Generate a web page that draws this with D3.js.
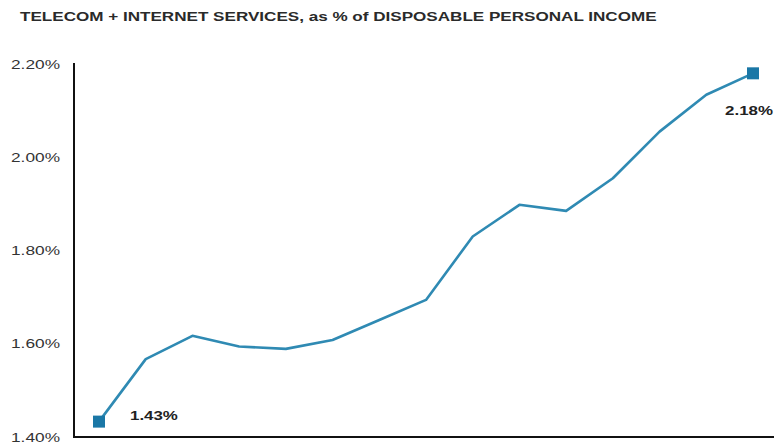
<!DOCTYPE html>
<html>
<head>
<meta charset="utf-8">
<script src="https://cdn.jsdelivr.net/npm/d3@7"></script>
<style>
  html, body { margin: 0; padding: 0; background: #fff; }
  svg { display: block; }
  text { font-family: "Liberation Sans", Arial, sans-serif; }
</style>
</head>
<body>
<svg id="chart" width="774" height="445"></svg>
<script>
// Telecom + internet services spending as a share of disposable personal income
const periods = d3.range(15);
const shareValues = [1.433, 1.567, 1.617, 1.594, 1.589, 1.608, 1.651, 1.694,
                     1.830, 1.898, 1.885, 1.955, 2.055, 2.134, 2.18];
const yTicks = [1.40, 1.60, 1.80, 2.00, 2.20];
const titleText = "TELECOM + INTERNET SERVICES, as % of DISPOSABLE PERSONAL INCOME";

const svg = d3.select("#chart");
const plot = { left: 74, right: 774, top: 63, bottom: 437 };
const stretch = 1.3; // wide lettering used for every label

const x = d3.scaleLinear().domain([0, 14]).range([99, 753]);
const y = d3.scaleLinear().domain([1.40, 2.20]).range([plot.bottom, plot.top + 1]);

// Places a horizontally widened text at (px, py)
function wideText(px, py, str, opts) {
  return svg.append("text")
    .attr("transform", `translate(${px},${py}) scale(${opts.sx || stretch},1)`)
    .attr("font-size", opts.size)
    .attr("font-weight", opts.weight || "normal")
    .attr("text-anchor", opts.anchor || "start")
    .attr("fill", opts.fill || "#222")
    .text(str);
}

// Title
wideText(20, 21, titleText, { size: 13, weight: "bold", sx: 1.315, fill: "#2a2a2a" });

// Y axis: labels only, with a plain vertical rule
const tickSx = 1.33;
const yAxis = d3.axisLeft(y)
  .tickValues(yTicks)
  .tickSize(0)
  .tickPadding(14)
  .tickFormat(d => d.toFixed(2) + "%");

const gy = svg.append("g")
  .attr("transform", `translate(${plot.left},0)`)
  .call(yAxis);
gy.select(".domain").remove();
gy.selectAll("text")
  .attr("font-family", "'Liberation Sans', Arial, sans-serif")
  .attr("font-size", 13)
  .attr("fill", "#333")
  .attr("x", -14 / tickSx)
  .attr("transform", `scale(${tickSx},1)`);

svg.append("line")
  .attr("x1", plot.left).attr("x2", plot.left)
  .attr("y1", plot.top).attr("y2", plot.bottom)
  .attr("stroke", "#111").attr("stroke-width", 2);

svg.append("line")
  .attr("x1", plot.left - 1).attr("x2", plot.right)
  .attr("y1", plot.bottom).attr("y2", plot.bottom)
  .attr("stroke", "#111").attr("stroke-width", 2);

// Series line
const line = d3.line()
  .x((d, i) => x(periods[i]))
  .y(d => y(d));

svg.append("path")
  .datum(shareValues)
  .attr("fill", "none")
  .attr("stroke", "#2f8ab3")
  .attr("stroke-width", 2.6)
  .attr("stroke-linejoin", "round")
  .attr("d", line);

// End-point markers
const ends = [0, shareValues.length - 1];
svg.selectAll("rect.endpoint")
  .data(ends)
  .join("rect")
  .attr("class", "endpoint")
  .attr("x", i => x(periods[i]) - 6)
  .attr("y", i => y(shareValues[i]) - 6)
  .attr("width", 12).attr("height", 12)
  .attr("fill", "#1a77a6");

// Value labels for first and last points
const last = shareValues.length - 1;
wideText(x(periods[0]) + 31, y(shareValues[0]) - 2,
         shareValues[0].toFixed(2) + "%", { size: 13, weight: "bold" });
wideText(x(periods[last]) + 20, y(shareValues[last]) + 42,
         shareValues[last].toFixed(2) + "%", { size: 13, weight: "bold", anchor: "end" });
</script>
</body>
</html>
